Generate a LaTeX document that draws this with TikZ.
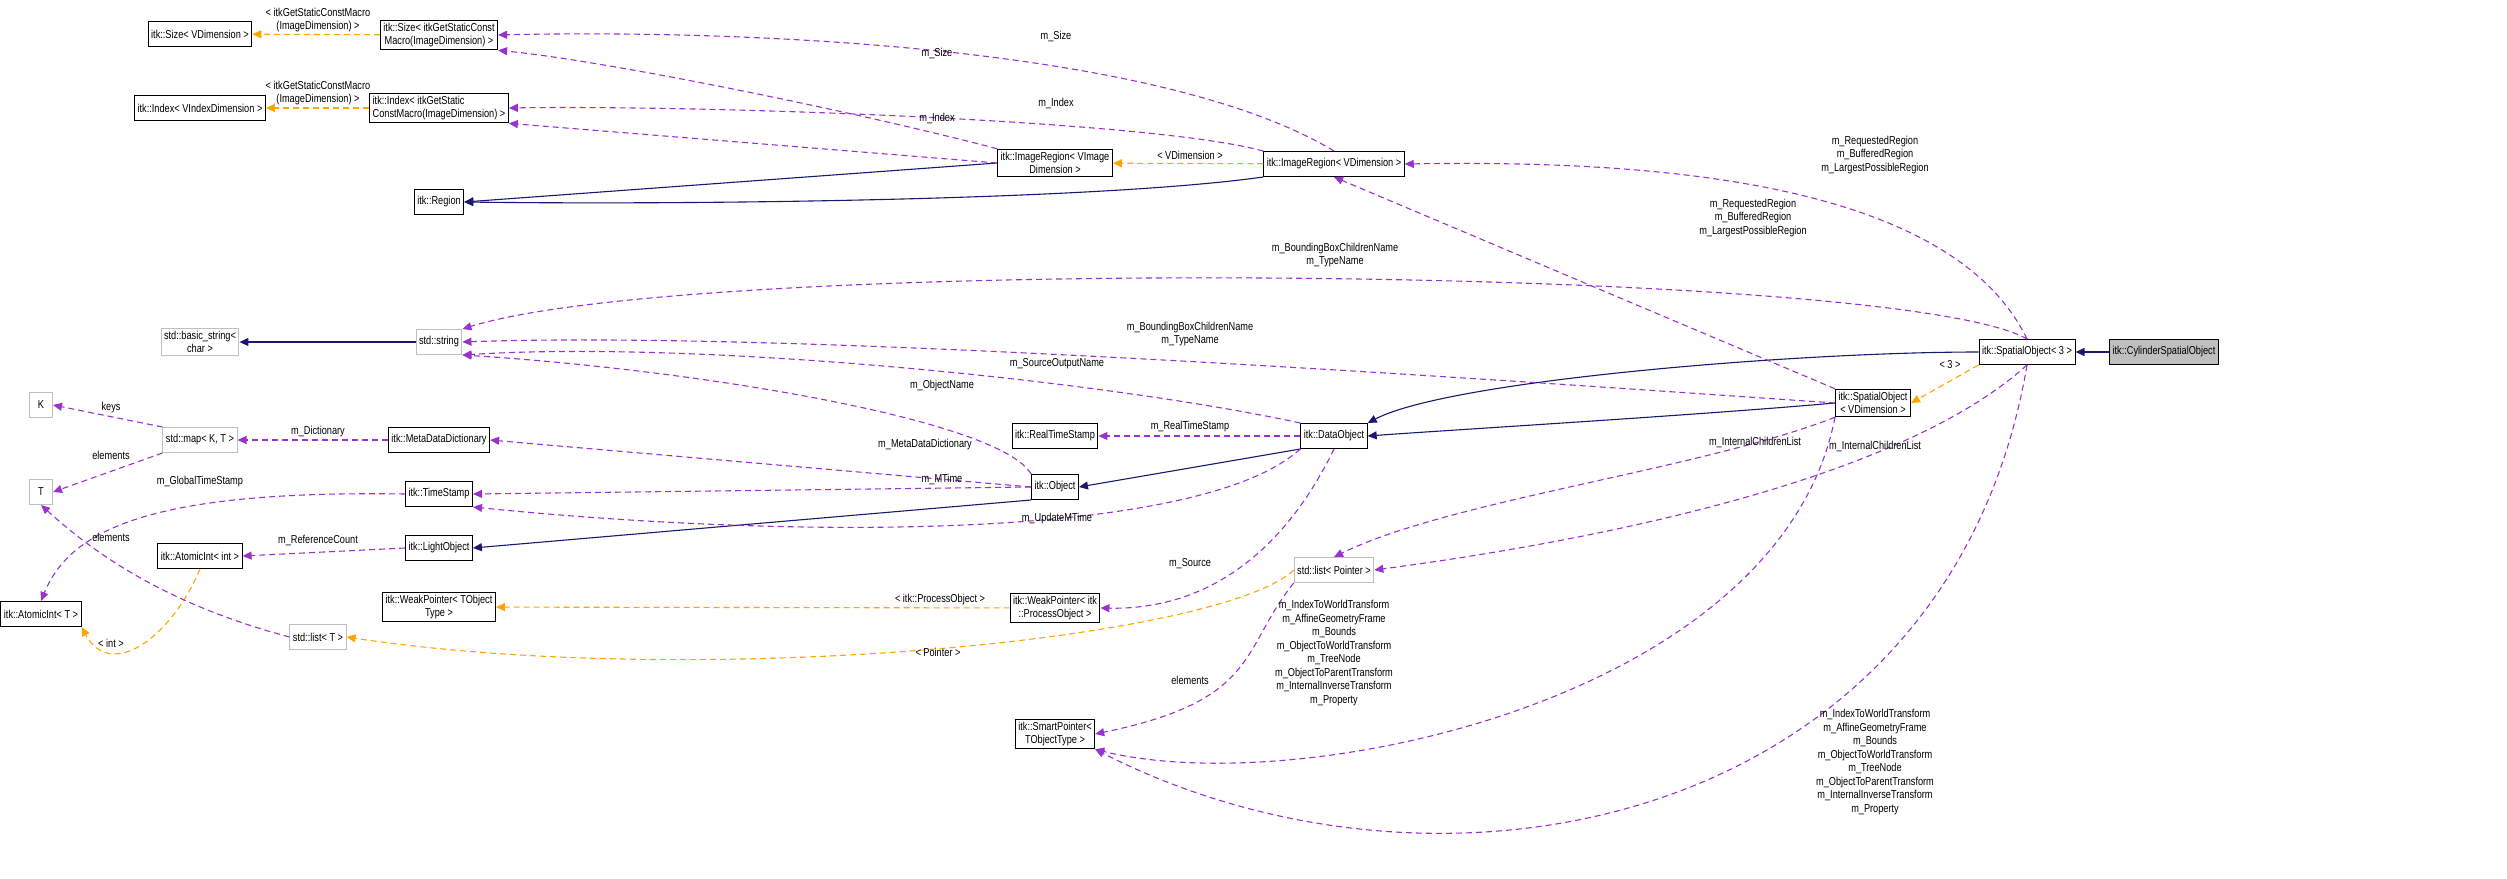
\documentclass[tikz,border=0pt]{standalone}
\usepackage{fontspec}
\setmainfont{Liberation Sans}[FakeStretch=0.8]
\usetikzlibrary{arrows.meta}
\definecolor{inhc}{HTML}{191970}
\definecolor{usec}{HTML}{9A32CD}
\definecolor{tplc}{HTML}{FFA500}
\begin{document}
\begin{tikzpicture}[x=1pt,y=-1pt,
  every node/.style={font=\fontsize{11.5}{13}\selectfont},
  cls/.style={draw=black,line width=1pt,inner sep=3pt,minimum height=25,align=center,fill=white},
  ext/.style={cls,draw=gray!50},
  inh/.style={draw=inhc,line width=1.1pt,-{Triangle[length=9pt,width=8pt]}},
  use/.style={draw=usec,line width=1.1pt,dash pattern=on 6pt off 4pt,-{Triangle[length=9pt,width=8pt]}},
  tpl/.style={draw=tplc,line width=1.1pt,dash pattern=on 6pt off 4pt,-{Triangle[length=9pt,width=8pt]}},
  lbl/.style={align=center,inner sep=0pt,font=\fontsize{11.5}{13.5}\selectfont}]
\useasboundingbox (0,0) rectangle (2507,878);
% nodes
\node[cls] (sizeV) at (200,34) {itk::Size\textless{} VDimension \textgreater};
\node[cls] (sizeI) at (439,35) {itk::Size\textless{} itkGetStaticConst\\Macro(ImageDimension) \textgreater};
\node[cls] (idxV) at (200,108) {itk::Index\textless{} VIndexDimension \textgreater};
\node[cls,align=left] (idxI) at (439,108) {itk::Index\textless{} itkGetStatic\\ConstMacro(ImageDimension) \textgreater};
\node[cls] (region) at (439,202) {itk::Region};
\node[ext] (bstr) at (200,342) {std::basic\_string\textless\\char \textgreater};
\node[ext] (str) at (439,342) {std::string};
\node[ext,minimum width=23] (K) at (41,405) {K};
\node[ext] (map) at (200,440) {std::map\textless{} K, T \textgreater};
\node[cls] (md) at (439,440) {itk::MetaDataDictionary};
\node[ext,minimum width=23] (T) at (41,492) {T};
\node[cls] (ts) at (439,494) {itk::TimeStamp};
\node[cls] (light) at (439,548) {itk::LightObject};
\node[cls] (aint) at (200,556) {itk::AtomicInt\textless{} int \textgreater};
\node[cls] (aT) at (41,614) {itk::AtomicInt\textless{} T \textgreater};
\node[ext] (lt) at (318,637) {std::list\textless{} T \textgreater};
\node[cls] (wpt) at (439,607) {itk::WeakPointer\textless{} TObject\\Type \textgreater};
\node[cls] (irv) at (1055,163) {itk::ImageRegion\textless{} VImage\\Dimension \textgreater};
\node[cls] (ir) at (1334,164) {itk::ImageRegion\textless{} VDimension \textgreater};
\node[cls] (rts) at (1055,436) {itk::RealTimeStamp};
\node[cls] (dobj) at (1334,436) {itk::DataObject};
\node[cls] (obj) at (1055,487) {itk::Object};
\node[cls] (wpp) at (1055,608) {itk::WeakPointer\textless{} itk\\::ProcessObject \textgreater};
\node[ext] (lp) at (1334,570) {std::list\textless{} Pointer \textgreater};
\node[cls] (sp) at (1055,734) {itk::SmartPointer\textless\\TObjectType \textgreater};
\node[cls] (so3) at (2027,352) {itk::SpatialObject\textless{} 3 \textgreater};
\node[cls,fill=gray!50] (cyl) at (2164,352) {itk::CylinderSpatialObject};
\node[cls] (sov) at (1873,403) {itk::SpatialObject\\\textless{} VDimension \textgreater};
% inheritance
\draw[inh] (cyl) -- (so3);
\draw[inh] (so3.west) .. controls (1800,352) and (1450,380) .. (dobj.north east);
\draw[inh] (sov.west) .. controls (1700,415) and (1450,430) .. (dobj.east);
\draw[inh] (dobj.south west) -- (obj.east);
\draw[inh] (obj.south west) -- (light.east);
\draw[inh] (irv.west) -- (region.east);
\draw[inh] (ir.south west) .. controls (1100,200) and (700,205) .. (region.east);
\draw[inh] (str) -- (bstr);
% template
\draw[tpl] (sizeI) -- (sizeV);
\node[lbl] (l1) at (318,20) {\textless{} itkGetStaticConstMacro\\(ImageDimension) \textgreater};
\draw[tpl] (idxI) -- (idxV);
\node[lbl] (l2) at (318,93) {\textless{} itkGetStaticConstMacro\\(ImageDimension) \textgreater};
\draw[tpl] (ir) -- (irv);
\node[lbl] (l3) at (1190,155) {\textless{} VDimension \textgreater};
\draw[tpl] (so3.south west) -- (sov.east);
\node[lbl] (l4) at (1950,365) {\textless{} 3 \textgreater};
\draw[tpl] (wpp) -- (wpt);
\node[lbl] (l5) at (940,600) {\textless{} itk::ProcessObject \textgreater};
\draw[tpl] (lp.west) .. controls (1220,640) and (700,690) .. (lt.east);
\node[lbl] (l6) at (938,652) {\textless{} Pointer \textgreater};
\draw[tpl] (aint.south) .. controls (170,640) and (110,680) .. (aT.south east);
\node[lbl] (l7) at (111,643) {\textless{} int \textgreater};
% usage
\draw[use] (ir.north) .. controls (1150,40) and (700,30) .. (sizeI.east);
\node[lbl] (u1) at (1056,36) {m\_Size};
\draw[use] (irv.north west) .. controls (850,110) and (600,60) .. (sizeI.south east);
\node[lbl] (u2) at (937,53) {m\_Size};
\draw[use] (ir.north west) .. controls (1150,120) and (700,105) .. (idxI.east);
\node[lbl] (u3) at (1056,103) {m\_Index};
\draw[use] (irv.west) -- (idxI.south east);
\node[lbl] (u4) at (937,118) {m\_Index};
\draw[use] (so3.north) .. controls (1950,180) and (1650,160) .. (ir.east);
\node[lbl] (u5) at (1875,155) {m\_RequestedRegion\\m\_BufferedRegion\\m\_LargestPossibleRegion};
\draw[use] (sov.north west) -- (ir.south);
\node[lbl] (u6) at (1753,218) {m\_RequestedRegion\\m\_BufferedRegion\\m\_LargestPossibleRegion};
\draw[use] (so3.north) .. controls (1900,265) and (700,255) .. (str.north east);
\node[lbl] (u7) at (1335,255) {m\_BoundingBoxChildrenName\\m\_TypeName};
\draw[use] (sov.west) .. controls (1500,380) and (800,330) .. (str.east);
\node[lbl] (u8) at (1190,334) {m\_BoundingBoxChildrenName\\m\_TypeName};
\draw[use] (dobj.north west) .. controls (1100,380) and (700,340) .. (str.south east);
\node[lbl] (u9) at (1057,364) {m\_SourceOutputName};
\draw[use] (obj.north west) .. controls (1000,420) and (700,370) .. (str.south east);
\node[lbl] (u10) at (942,386) {m\_ObjectName};
\draw[use] (obj.west) -- (md.east);
\node[lbl] (u11) at (925,445) {m\_MetaDataDictionary};
\draw[use] (md) -- (map);
\node[lbl] (u12) at (318,432) {m\_Dictionary};
\draw[use] (map.north west) -- (K.east);
\node[lbl] (u13) at (111,408) {keys};
\draw[use] (map.south west) -- (T.east);
\node[lbl] (u14) at (111,455) {elements};
\draw[use] (dobj) -- (rts);
\node[lbl] (u15) at (1190,427) {m\_RealTimeStamp};
\draw[use] (obj.west) -- (ts.east);
\node[lbl] (u16) at (942,479) {m\_MTime};
\draw[use] (dobj.south west) .. controls (1200,540) and (800,540) .. (ts.south east);
\node[lbl] (u17) at (1057,519) {m\_UpdateMTime};
\draw[use] (ts.west) .. controls (150,490) and (70,530) .. (aT.north);
\node[lbl] (u18) at (200,482) {m\_GlobalTimeStamp};
\draw[use] (light.west) -- (aint.east);
\node[lbl] (u19) at (318,540) {m\_ReferenceCount};
\draw[use] (lt.west) .. controls (150,600) and (80,540) .. (T.south);
\node[lbl] (u20) at (111,537) {elements};
\draw[use] (dobj.south) .. controls (1280,560) and (1200,610) .. (wpp.east);
\node[lbl] (u21) at (1190,564) {m\_Source};
\draw[use] (sov.south west) .. controls (1700,470) and (1450,500) .. (lp.north);
\node[lbl] (u22) at (1755,442) {m\_InternalChildrenList};
\draw[use] (so3.south) .. controls (1900,480) and (1600,540) .. (lp.east);
\node[lbl] (u23) at (1875,446) {m\_InternalChildrenList};
\draw[use] (lp.south west) .. controls (1240,650) and (1260,700) .. (sp.east);
\node[lbl] (u24) at (1190,680) {elements};
\draw[use] (sov.south west) .. controls (1780,700) and (1300,800) .. (sp.south east);
\node[lbl] (u25) at (1334,653) {m\_IndexToWorldTransform\\m\_AffineGeometryFrame\\m\_Bounds\\m\_ObjectToWorldTransform\\m\_TreeNode\\m\_ObjectToParentTransform\\m\_InternalInverseTransform\\m\_Property};
\draw[use] (so3.south) .. controls (1950,820) and (1450,930) .. (sp.south east);
\node[lbl] (u26) at (1875,762) {m\_IndexToWorldTransform\\m\_AffineGeometryFrame\\m\_Bounds\\m\_ObjectToWorldTransform\\m\_TreeNode\\m\_ObjectToParentTransform\\m\_InternalInverseTransform\\m\_Property};
\end{tikzpicture}
\end{document}
